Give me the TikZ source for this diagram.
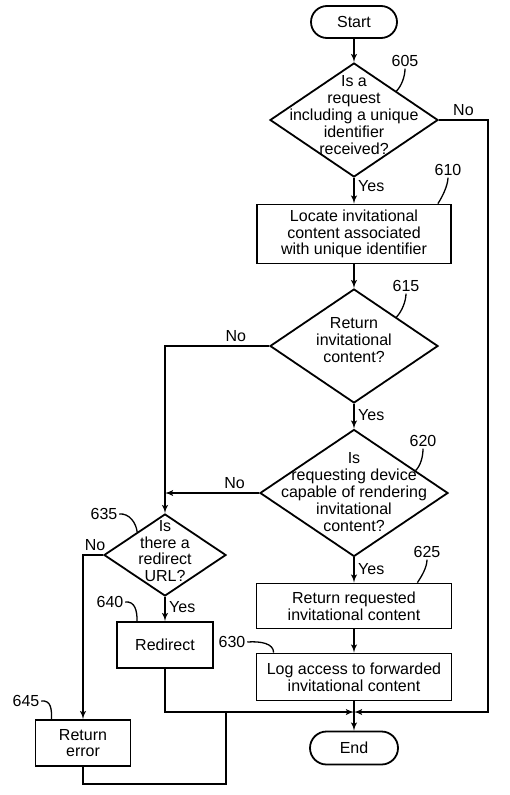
\documentclass[tikz,border=0pt]{standalone}
\usepackage{fontspec}
\setmainfont{Liberation Sans}
\usetikzlibrary{arrows}
\usetikzlibrary{shapes.geometric}
\usetikzlibrary{shapes.misc}
\usetikzlibrary{calc}
\tikzset{term/.style = {rounded rectangle, draw, inner sep=0},
         proc/.style = {rectangle, draw, align=center, inner sep=0},
         decision/.style = {diamond, draw, inner sep=0},
         qtext/.style = {align=center},
         ref/.style = {inner sep=1pt},
         lead/.style = {line width=1.3pt},
         flow/.style = {->, >=latex'}}
\begin{document}
\begin{tikzpicture}[x=1pt, y=-1pt, line width=1.8pt, font=\fontsize{16}{16.8}\selectfont]
     \useasboundingbox [fill=white] (0, 0) rectangle (510, 795);
     \node [term, minimum width=86, minimum height=32] (start) at (354, 22) {Start};
     \node [decision, minimum width=168, minimum height=114,
            label={[qtext, yshift=5]center:Is a\\request\\including a unique\\identifier\\received?}] (d605) at (354, 120) {};
     \node [proc, minimum width=194, minimum height=59] (b610) at (354, 234) {Locate invitational\\content associated\\with unique identifier};
     \node [decision, minimum width=168, minimum height=114,
            label={[qtext, yshift=6]center:Return\\invitational\\content?}] (d615) at (354, 346) {};
     \node [decision, minimum width=188, minimum height=127,
            label={[qtext, yshift=1]center:Is\\requesting device\\capable of rendering\\invitational\\content?}] (d620) at (354, 493) {};
     \node [proc, minimum width=195, minimum height=45] (b625) at (354, 606) {Return requested\\invitational content};
     \node [proc, minimum width=195, minimum height=47] (b630) at (354, 677) {Log access to forwarded\\invitational content};
     \node [term, minimum width=88, minimum height=33] (end) at (354, 748) {End};
     \node [decision, minimum width=122, minimum height=82,
            label={[qtext, yshift=4]center:Is\\there a\\redirect\\URL?}] (d635) at (165, 555) {};
     \node [proc, minimum width=96, minimum height=46] (b640) at (165, 645) {Redirect};
     \node [proc, minimum width=95, minimum height=46] (b645) at (83, 743) {Return\\error};
     \coordinate (mR) at (488, 712);
     \coordinate (mC) at (354, 712);
     \coordinate (mB) at (226, 712);
     \node [ref] (n605) at (405, 61) {605};
     \node [ref] (n610) at (448, 170) {610};
     \node [ref] (n615) at (406, 286) {615};
     \node [ref] (n620) at (423, 441) {620};
     \node [ref] (n625) at (427, 552) {625};
     \node [ref] (n630) at (232, 642) {630};
     \node [ref] (n635) at (104, 514) {635};
     \node [ref] (n640) at (110, 602) {640};
     \node [ref] (n645) at (26, 701) {645};
     \draw [flow] (start) -- (d605);
     \draw [flow] (d605) -- node [right, pos=0.3] {Yes} (b610);
     \draw [flow] (b610) -- (d615);
     \draw [flow] (d615) -- node [right, pos=0.45] {Yes} (d620);
     \draw [flow] (d620) -- node [right, pos=0.45] {Yes} (b625);
     \draw [flow] (b625) -- (b630);
     \draw [flow] (b630) -- (end);
     \draw [flow] (d605.east) -| node [above, pos=0.25] {No} (mR) -- (mC);
     \draw [flow] (b640) |- (mC);
     \draw [flow] (d615.west) -| node [above, pos=0.16] {No} (d635.north);
     \draw [flow] (d620.west) -- node [above, pos=0.26] {No} (d620.west -| d635.north);
     \draw [flow] (d635) -- node [right, pos=0.4] {Yes} (b640);
     \draw [flow] (d635.west) -| node [above, pos=0.2] {No} (b645.north);
     \draw (b645.south) -- ++(0, 17) -| (mB);
     \draw [lead] (n605.south) .. controls +(0, 8) and +(5, -5) .. ($(d605.north)!0.5!(d605.east)$);
     \draw [lead] (n610.south) .. controls +(0, 8) and +(4, -6) .. ($(b610.north east)+(-14, 0)$);
     \draw [lead] (n615.south) .. controls +(0, 8) and +(5, -5) .. ($(d615.north)!0.5!(d615.east)$);
     \draw [lead] (n620.south) .. controls +(0, 8) and +(5, -5) .. ($(d620.north)!0.65!(d620.east)$);
     \draw [lead] (n625.south) .. controls +(0, 8) and +(4, -6) .. ($(b625.north east)+(-35, 0)$);
     \draw [lead] (n630.east) .. controls +(14, -1) and +(0, -9) .. ($(b630.north west)+(18, 0)$);
     \draw [lead] (n635.east) .. controls +(10, -1) and +(-1, -9) .. ($(d635.north)!0.45!(d635.west)$);
     \draw [lead] (n640.east) .. controls +(10, -1) and +(0, -10) .. ($(b640.north west)+(21, 0)$);
     \draw [lead] (n645.east) .. controls +(10, -1) and +(0, -10) .. ($(b645.north west)+(17, 0)$);
    \end{tikzpicture}
\end{document}
